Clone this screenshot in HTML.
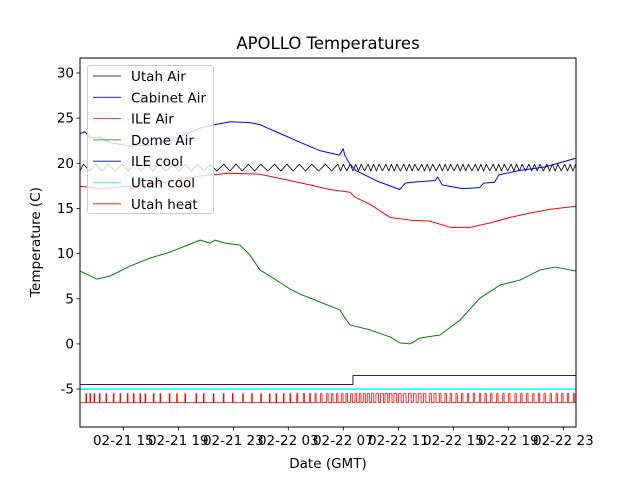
<!DOCTYPE html>
<html><head><meta charset="utf-8"><style>
html,body{margin:0;padding:0;background:#fff;}
svg{display:block;font-family:"DejaVu Sans","Liberation Sans",sans-serif;}
</style></head><body>
<svg id="chart" width="640" height="480" viewBox="0 0 640 480" xmlns="http://www.w3.org/2000/svg">
<rect x="0" y="0" width="640" height="480" fill="#fff"/>
<text x="328" y="49" font-size="16.5" text-anchor="middle" fill="#000">APOLLO Temperatures</text>
<g id="plot"></g>
<text x="328" y="468" font-size="13.5" text-anchor="middle">Date (GMT)</text>
<text x="0" y="0" font-size="13.5" text-anchor="middle" transform="translate(40,242) rotate(-90)">Temperature (C)</text>
</svg>
<script>
// hours since 02-21 00:00
const xDomain = [11.85, 47.92];
const yDomain = [-9.2, 31.66];
const yTicks = [-5, 0, 5, 10, 15, 20, 25, 30];
const xTicks = [15, 19, 23, 27, 31, 35, 39, 43, 47];
const xTickLabels = ["02-21 15","02-21 19","02-21 23","02-22 03","02-22 07","02-22 11","02-22 15","02-22 19","02-22 23"];

const domeT = [11.85,13.09,14.03,15.49,16.94,18.4,19.49,20.58,21.31,21.67,22.4,23.49,24.21,24.94,25.67,27.12,27.85,29.3,30.76,31.12,31.49,32.94,34.4,35.12,35.85,36.58,38.03,39.49,40.94,42.4,43.85,45.3,46.4,47.92];
const domeV = [8.07,7.18,7.51,8.62,9.5,10.17,10.83,11.49,11.16,11.49,11.16,10.94,9.83,8.18,7.51,6.08,5.52,4.64,3.76,2.87,2.1,1.55,0.77,0.11,0,0.66,0.99,2.65,5.08,6.52,7.07,8.18,8.51,8.07];

const ileAirT = [11.85,13.3,15.5,17.7,20.6,22.7,24.9,27.1,28.6,30.0,31.5,31.8,33.0,34.4,35.9,37.3,38.8,40.2,41.7,43.1,44.6,46.0,47.92];
const ileAirV = [17.46,17.2,17.46,17.8,18.6,18.9,18.8,18.1,17.6,17.1,16.8,16.3,15.4,14.0,13.7,13.6,12.9,12.9,13.4,14.0,14.5,14.9,15.25];

const cabT = [11.85,12.2,12.6,13.3,14.0,15.5,16.9,18.8,20.6,21.7,22.8,24.2,24.9,26.4,27.9,29.3,30.7,31.0,31.1,31.4,31.9,33.5,35.1,35.5,36.0,37.7,37.85,38.2,39.7,40.9,41.2,42.0,42.3,43.8,45.7,48.0];
const cabV = [23.3,23.5,22.8,22.9,22.3,21.9,22.0,22.7,23.9,24.3,24.6,24.5,24.3,23.3,22.3,21.4,20.9,21.6,20.9,20.1,19.2,18.0,17.1,17.8,17.9,18.1,18.5,17.6,17.2,17.3,17.8,17.9,18.7,19.2,19.6,20.6];

const utahAirPeaks = [12.1,13.0,13.9,14.9,15.8,16.7,17.6,18.6,19.5,20.4,21.3,22.3,23.2,24.1,25.0,26.0,26.9,27.8,28.7,29.7,30.6,31.0,31.5,31.9,32.3,32.8,33.2,33.6,34.1,34.5,34.9,35.4,35.8,36.2,36.7,37.1,37.5,38.0,38.4,38.8,39.3,39.7,40.1,40.6,41.0,41.4,41.9,42.3,42.7,43.2,43.6,44.0,44.5,44.9,45.3,45.8,46.2,46.6,47.1,47.5,47.9];
const utahAirHigh = 19.9;
const utahAirLow = 19.15;

const ileCoolT = [11.85,31.7,31.7,47.92];
const ileCoolV = [-4.5,-4.5,-3.5,-3.5];
const utahCoolV = -5;

const heatBase = -6.5, heatOn = -5.5;
const heatStarts = [12.28,12.57,12.87,13.26,13.74,14.27,14.76,15.29,15.73,16.21,16.58,17.18,17.67,18.34,18.88,19.48,20.28,20.82,21.54,22.27,22.93,23.68,24.33,24.99,25.62,26.10,26.64,27.12,27.61,28.09,28.53,28.94,29.35,29.79,30.15,30.51,30.88,31.19,31.53,31.85,32.16,32.45,32.74,33.06,33.37,33.71,34.03,34.34,34.68,35.00,35.36,35.73,36.09,36.45,36.82,37.25,37.59,37.98,38.39,38.76,39.19,39.60,40.02,40.45,40.89,41.30,41.71,42.15,42.59,43.02,43.48,43.90,44.33,44.77,45.18,45.59,46.03,46.47,46.88,47.29,47.73];
const heatDur = [0.05,0.05,0.05,0.05,0.05,0.05,0.05,0.05,0.05,0.05,0.05,0.05,0.05,0.05,0.05,0.05,0.05,0.05,0.05,0.05,0.05,0.05,0.05,0.05,0.05,0.05,0.05,0.05,0.07,0.08,0.08,0.08,0.1,0.1,0.1,0.1,0.1,0.12,0.12,0.12,0.12,0.15,0.15,0.15,0.18,0.2,0.2,0.2,0.2,0.2,0.2,0.2,0.2,0.2,0.18,0.15,0.15,0.12,0.12,0.12,0.1,0.1,0.1,0.1,0.1,0.1,0.1,0.1,0.1,0.1,0.1,0.1,0.1,0.1,0.1,0.1,0.1,0.1,0.1,0.1,0.1];

const L = 80, R = 576, T = 58, B = 427;
function xs(h){ return L + (h - xDomain[0]) / (xDomain[1] - xDomain[0]) * (R - L); }
function ys(v){ return B - (v - yDomain[0]) / (yDomain[1] - yDomain[0]) * (B - T); }
const NS = "http://www.w3.org/2000/svg";
const plot = document.getElementById('plot');
function mk(tag, attrs, parent){ const e = document.createElementNS(NS, tag); for (const k in attrs) e.setAttribute(k, attrs[k]); (parent||plot).appendChild(e); return e; }
function line(pts, color, name, w){
  const e = mk('polyline', {points: pts.map(p => p[0].toFixed(2)+','+p[1].toFixed(2)).join(' '), fill:'none', stroke:color, 'stroke-width': w||1, 'stroke-linejoin':'round'});
  
  
  return e;
}
const defs = mk('defs', {});
const cp = mk('clipPath', {id:'clip'}, defs);
mk('rect', {x:L, y:T, width:R-L, height:B-T}, cp);
const series = mk('g', {'clip-path':'url(#clip)'});


function sline(pts, color, name, w){ const e = line(pts, color, name, w); series.appendChild(e); return e; }

const ua = [];
for (let i = 0; i < utahAirPeaks.length; i++) {
  ua.push([xs(utahAirPeaks[i]), ys(utahAirHigh)]);
  const next = i + 1 < utahAirPeaks.length ? utahAirPeaks[i+1] : utahAirPeaks[i] + 0.4;
  ua.push([xs((utahAirPeaks[i] + next) / 2), ys(utahAirLow)]);
}
ua.unshift([xs(xDomain[0]), ys(utahAirLow)]);
sline(ua, '#000', 'utah-air-line', 0.8);
sline(cabT.map((t,i)=>[xs(t), ys(cabV[i])]), '#0000ff', 'cabinet-air-line', 1);
sline(ileAirT.map((t,i)=>[xs(t), ys(ileAirV[i])]), '#ff0000', 'ile-air-line', 1);
sline(domeT.map((t,i)=>[xs(t), ys(domeV[i])]), '#008000', 'dome-air-line', 1);
sline(ileCoolT.map((t,i)=>[xs(t), ys(ileCoolV[i])]), '#000080', 'ile-cool-line', 0.9);
sline([[xs(xDomain[0]), ys(utahCoolV)], [xs(xDomain[1]), ys(utahCoolV)]], '#00ffff', 'utah-cool-line', 1.5);
const hp = [[xs(xDomain[0]), ys(heatBase)]];
heatStarts.forEach((s,i)=>{
  hp.push([xs(s), ys(heatBase)], [xs(s), ys(heatOn)], [xs(s+heatDur[i]), ys(heatOn)], [xs(s+heatDur[i]), ys(heatBase)]);
});
hp.push([xs(xDomain[1]), ys(heatBase)]);
sline(hp, '#ff0000', 'utah-heat-line', 0.8);

const frame = mk('rect', {x:L, y:T, width:R-L, height:B-T, fill:'none', stroke:'#000', 'stroke-width':1});



yTicks.forEach(v=>{
  const y = ys(v);
  const tk = mk('line', {x1:L-3.5, x2:L, y1:y, y2:y, stroke:'#000', 'stroke-width':0.8});
  
  
  const tx = mk('text', {x:L-6, y:y+4.5, 'font-size':13.5, 'text-anchor':'end'});
  tx.textContent = v;
  
  
});
xTicks.forEach((h,i)=>{
  const x = xs(h);
  const tk = mk('line', {x1:x, x2:x, y1:B, y2:B+3.5, stroke:'#000', 'stroke-width':0.8});
  
  
  const tx = mk('text', {x:x, y:B+18, 'font-size':13.5, 'text-anchor':'middle'});
  tx.textContent = xTickLabels[i];
  
  
});

const legNames = ["Utah Air","Cabinet Air","ILE Air","Dome Air","ILE cool","Utah cool","Utah heat"];
const legColors = ["#000","#0000ff","#ff0000","#008000","#000080","#00ffff","#ff0000"];
const lg = mk('g', {});


mk('rect', {x:87.5, y:65.5, width:126, height:148, rx:2.5, fill:'#fff', 'fill-opacity':0.8, stroke:'#ccc', 'stroke-width':1}, lg);
legNames.forEach((n,i)=>{
  const y = 76 + i*21.3;
  const g = mk('g', {}, lg);
  
  
  mk('line', {x1:93, x2:121, y1:y, y2:y, stroke:legColors[i], 'stroke-width':0.8}, g);
  const t = mk('text', {x:131, y:y+5, 'font-size':13.5}, g);
  t.textContent = n;
});
</script>
</body></html>
